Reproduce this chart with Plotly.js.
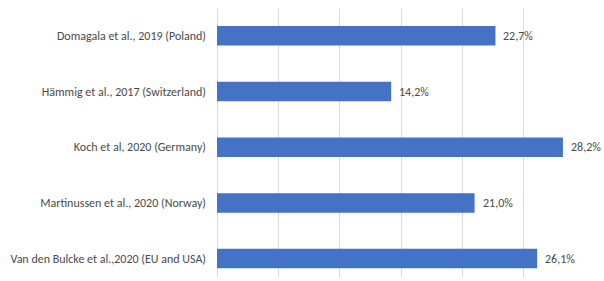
<!DOCTYPE html>
<html>
<head>
<meta charset="utf-8">
<script src="https://cdn.plot.ly/plotly-3.0.1.min.js"></script>
<style>html,body{margin:0;padding:0;background:#fff;}#chart{width:604px;height:281px;}</style>
</head>
<body>
<div id="chart"></div>
<script>
const categories = [
  "Domagala et al., 2019 (Poland)",
  "Hämmig et al., 2017 (Switzerland)",
  "Koch et al, 2020 (Germany)",
  "Martinussen et al., 2020 (Norway)",
  "Van den Bulcke et al.,2020 (EU and USA)"
];
const values = [22.7, 14.2, 28.2, 21.0, 26.1];
const valueLabels = ["22,7%", "14,2%", "28,2%", "21,0%", "26,1%"];
const xTicks = [0, 5, 10, 15, 20, 25, 30];

const font = "Carlito, Calibri, 'Liberation Sans', Arial, sans-serif";
const textColor = "#4a4a4a";

const annotations = categories.map((c, i) => ({
  x: values[i], y: c, xref: "x", yref: "y",
  text: valueLabels[i], showarrow: false,
  xanchor: "left", yanchor: "middle", xshift: 6,
  font: {family: font, size: 12, color: textColor}
}));

Plotly.newPlot("chart", [{
  type: "bar",
  orientation: "h",
  y: categories,
  x: values,
  marker: {color: "#4472C4"},
  width: 0.35,
  hoverinfo: "none"
}], {
  width: 604, height: 281,
  margin: {l: 217, r: 19, t: 8, b: 4, pad: 0},
  paper_bgcolor: "#ffffff",
  plot_bgcolor: "#ffffff",
  showlegend: false,
  font: {family: font, size: 12, color: textColor},
  annotations: annotations,
  xaxis: {
    range: [0, 30],
    tickvals: xTicks,
    showticklabels: false,
    showgrid: true,
    gridcolor: "#d9d9d9",
    gridwidth: 1,
    zeroline: true,
    zerolinecolor: "#d9d9d9",
    zerolinewidth: 1,
    showline: false,
    ticks: ""
  },
  yaxis: {
    type: "category",
    range: [4.33, -0.5],
    showgrid: false,
    zeroline: false,
    showline: false,
    ticks: "",
    ticklabelstandoff: 10,
    tickfont: {family: font, size: 12, color: textColor}
  }
}, {staticPlot: true, displayModeBar: false});
</script>
</body>
</html>
